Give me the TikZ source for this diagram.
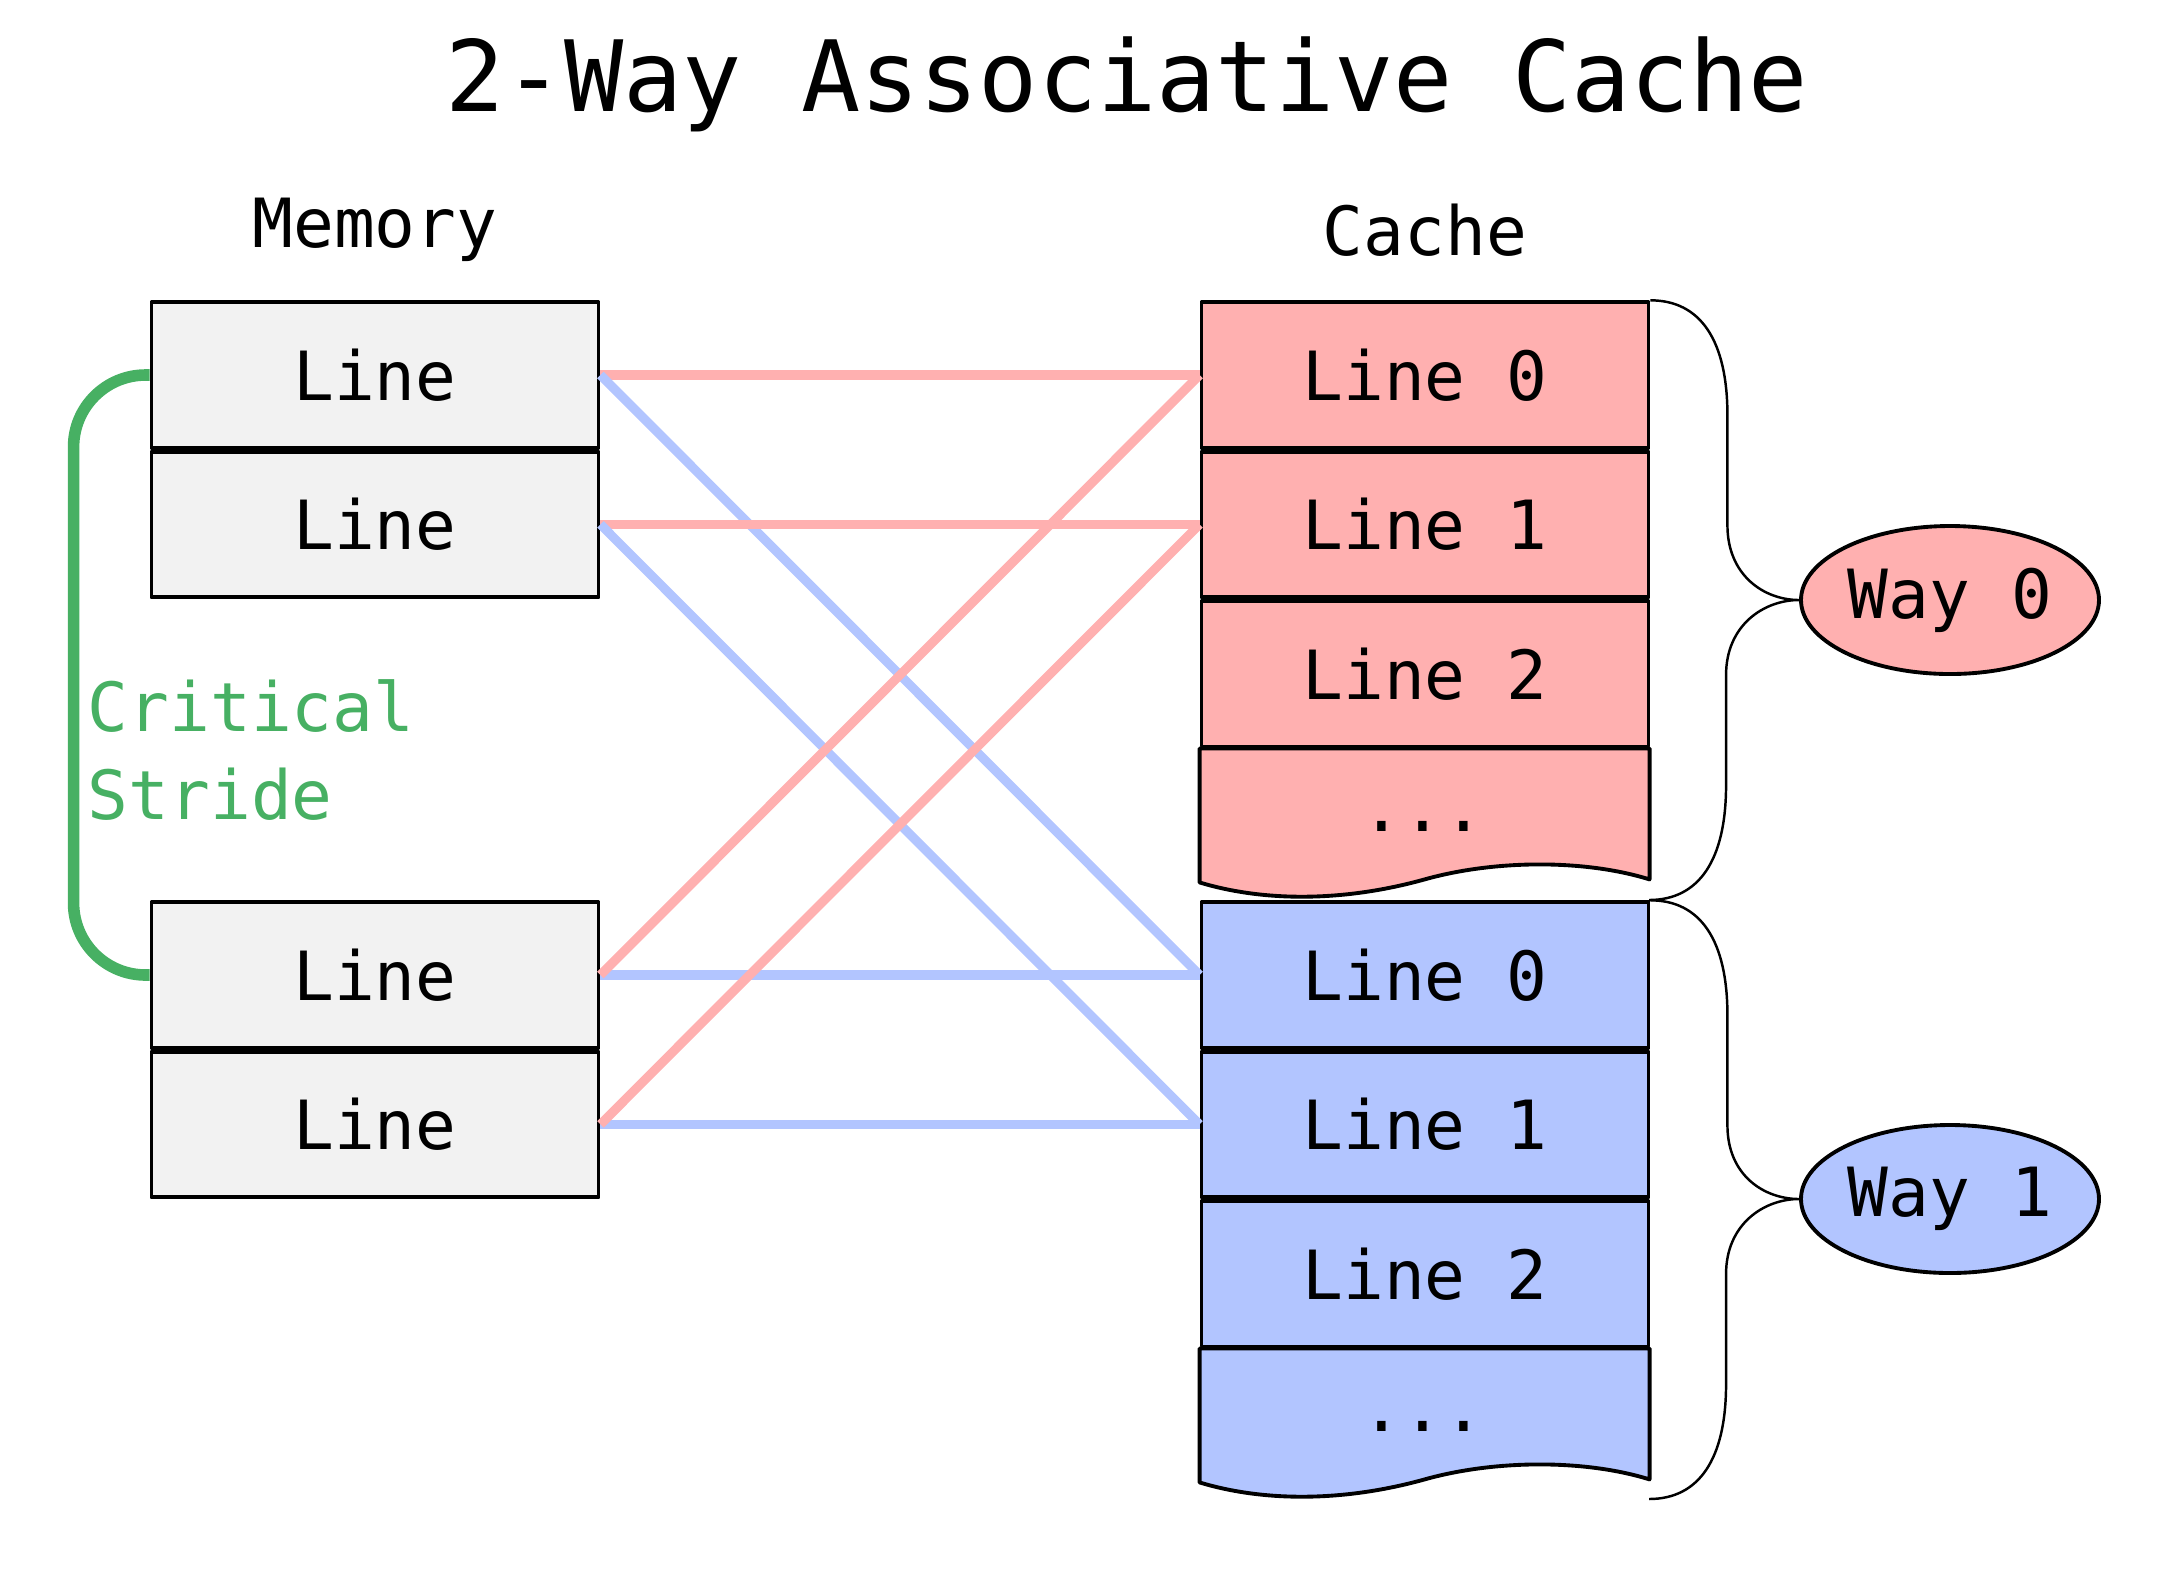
\documentclass[tikz,border=0pt]{standalone}
\usepackage{fontspec}
\setmainfont{DejaVu Sans Mono}
\usetikzlibrary{positioning,shapes.geometric}
\definecolor{memgray}{HTML}{F2F2F2}
\definecolor{wayred}{HTML}{FFB0B0}
\definecolor{wayblue}{HTML}{B2C5FF}
\definecolor{stridegreen}{HTML}{47B063}
\begin{document}
\begin{tikzpicture}[y=-1cm,line join=round,font=\fontsize{19.3}{24.9}\selectfont]
	\tikzset{memline/.style={draw,line width=1.1pt,fill=memgray,minimum width=4.47cm,minimum height=1.455cm,inner sep=0pt},
		cacheline/.style={memline,fill=#1},
		wayoval/.style={ellipse,draw,line width=1.1pt,fill=#1,minimum width=2.98cm,minimum height=1.48cm,inner sep=0pt},
		redlink/.style={draw=wayred,line width=2.6pt},
		bluelink/.style={draw=wayblue,line width=2.6pt},
		stride/.style={draw=stridegreen,line width=3.3pt,rounded corners=0.72cm},
		waybrace/.style={draw,line width=0.7pt}}
	\useasboundingbox (0,0) rectangle (21.75,15.75);
	\node[font=\fontsize{28}{34}\selectfont] (title) at (11.27,0.84) {2-Way Associative Cache};
	\node (memlabel) at (3.75,2.3) {Memory};
	\node (cachelabel) at (14.25,2.3) {Cache};
	% memory
	\node[memline] (m1) at (3.75,3.75) {Line};
	\node[memline,below=0pt of m1] (m2) {Line};
	\node[memline] (m3) at (3.75,9.75) {Line};
	\node[memline,below=0pt of m3] (m4) {Line};
	% cache ways
	\node[cacheline=wayred] (a0) at (14.25,3.75) {Line 0};
	\node[cacheline=wayred,below=0pt of a0] (a1) {Line 1};
	\node[cacheline=wayred,below=0pt of a1] (a2) {Line 2};
	\node[cacheline=wayblue] (b0) at (14.25,9.75) {Line 0};
	\node[cacheline=wayblue,below=0pt of b0] (b1) {Line 1};
	\node[cacheline=wayblue,below=0pt of b1] (b2) {Line 2};
	\foreach \row/\col/\nm in {a2/wayred/adots,b2/wayblue/bdots}{
		\begin{scope}[shift={(\row.south west)}]
			\draw[line width=1.1pt,fill=\col] (0,0) -- (4.5,0) -- (4.5,1.31) .. controls (3.86,1.11) and (2.96,1.11) .. (2.25,1.31) .. controls (1.46,1.53) and (0.66,1.54) .. (0,1.34) -- cycle;
			\node[anchor=base] (\nm) at (2.235,0.83) {...};
		\end{scope}
	}
	\node[wayoval=wayred] (w0) at (19.5,6.0) {Way 0};
	\node[wayoval=wayblue] (w1) at (19.5,11.99) {Way 1};
	% braces
	\draw[waybrace] (a0.north east) .. controls +(0.5,0) and +(0,-0.75) .. ++(0.77,1.15) -- ++(0,1.1) .. controls +(0,0.5) and +(-0.35,0) .. (w0.west)
		.. controls +(-0.35,0) and +(0,-0.5) .. ++(-0.73,0.75) -- ++(0,1.1) .. controls +(0,0.75) and +(0.5,0) .. ++(-0.77,1.15);
	\draw[waybrace] (b0.north east) .. controls +(0.5,0) and +(0,-0.75) .. ++(0.77,1.15) -- ++(0,1.1) .. controls +(0,0.5) and +(-0.35,0) .. (w1.west)
		.. controls +(-0.35,0) and +(0,-0.5) .. ++(-0.73,0.75) -- ++(0,1.1) .. controls +(0,0.75) and +(0.5,0) .. ++(-0.77,1.15);
	% links
	\foreach \m/\r/\b in {m1/a0/b0,m2/a1/b1}{
		\draw[redlink] (\m.east) -- (\r.west);
		\draw[bluelink] (\m.east) -- (\b.west);
	}
	\foreach \m/\r/\b in {m3/a0/b0,m4/a1/b1}{
		\draw[bluelink] (\m.east) -- (\b.west);
		\draw[redlink] (\m.east) -- (\r.west);
	}
	% critical stride
	\draw[stride] (m1.west) -- ++(-0.76,0) |- (m3.west);
	\node[anchor=west,align=left,text=stridegreen,inner sep=0pt] (crit) at (0.87,7.5) {Critical\\Stride};
\end{tikzpicture}
\end{document}
